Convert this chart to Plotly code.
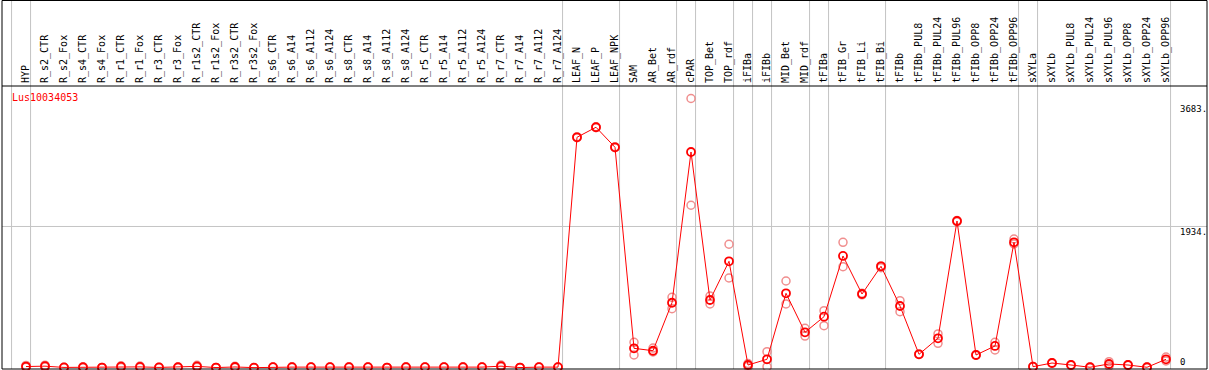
import plotly.graph_objects as go

# ---------------- data ----------------
categories = [
    "HYP", "R_s2_CTR", "R_s2_Fox", "R_s4_CTR", "R_s4_Fox", "R_r1_CTR", "R_r1_Fox",
    "R_r3_CTR", "R_r3_Fox", "R_r1s2_CTR", "R_r1s2_Fox", "R_r3s2_CTR", "R_r3s2_Fox",
    "R_s6_CTR", "R_s6_A14", "R_s6_A112", "R_s6_A124", "R_s8_CTR", "R_s8_A14",
    "R_s8_A112", "R_s8_A124", "R_r5_CTR", "R_r5_A14", "R_r5_A112", "R_r5_A124",
    "R_r7_CTR", "R_r7_A14", "R_r7_A112", "R_r7_A124", "LEAF_N", "LEAF_P", "LEAF_NPK",
    "SAM", "AR_Bet", "AR_rdf", "cPAR", "TOP_Bet", "TOP_rdf", "iFIBa", "iFIBb",
    "MID_Bet", "MID_rdf", "tFIBa", "tFIB_Gr", "tFIB_Li", "tFIB_Bi", "tFIBb",
    "tFIBb_PUL8", "tFIBb_PUL24", "tFIBb_PUL96", "tFIBb_OPP8", "tFIBb_OPP24",
    "tFIBb_OPP96", "sXYLa", "sXYLb", "sXYLb_PUL8", "sXYLb_PUL24", "sXYLb_PUL96",
    "sXYLb_OPP8", "sXYLb_OPP24", "sXYLb_OPP96",
]

mean_vals = [
    20, 25, 8, 10, 6, 18, 15, 8, 10, 22, 6, 14, 5,
    12, 12, 12, 12, 12, 12, 6, 12, 12, 12, 12, 12, 25, 6, 12, 12,
    3153, 3290, 3016, 269, 236, 892, 2952, 929, 1458, 41, 119,
    1021, 488, 701, 1531, 1011, 1390, 847, 187, 406, 2009, 178, 301, 1718,
    18, 68, 41, 10, 55, 41, 10, 119,
]

rep_hi = [
    35, 38, 10, 14, 8, 30, 26, 11, 13, 36, 8, 24, 7,
    15, 16, 15, 15, 16, 15, 8, 16, 15, 15, 16, 15, 40, 8, 15, 15,
    3160, 3296, 3022, 351, 273, 966, 3683, 984, 1691, 61, 223,
    1189, 543, 783, 1718, 1020, 1395, 920, 190, 465, 2015, 182, 351, 1763,
    22, 72, 45, 14, 86, 45, 14, 150,
]

rep_lo = [
    10, 15, 5, 6, 4, 8, 6, 5, 6, 10, 4, 6, 3,
    9, 8, 9, 9, 8, 9, 4, 8, 9, 9, 8, 9, 12, 4, 9, 9,
    3148, 3285, 3010, 178, 219, 810, 2224, 875, 1230, 20, 18,
    875, 437, 578, 1384, 1000, 1370, 769, 185, 338, 2000, 174, 246, 1695,
    14, 64, 37, 6, 27, 37, 6, 96,
]

y_tick_vals = [3683, 1934, 0]
y_tick_text = ["3683.", "1934.", "0"]
gene_name = "Lus10034053"

# group boundaries (separator drawn right after these category indices)
group_ends = [-1, 0, 28, 31, 34, 35, 37, 38, 39, 41, 42, 45, 52, 53, 60]

# ---------------- layout constants ----------------
W, H = 1209, 370
ML, MR, MT, MB = 2, 2, 86, 1
plot_w = W - ML - MR
plot_h = H - MT - MB
cat_px = 19.0          # pixels per category
first_px = 26.0        # pixel x of first category
x_min = -(first_px - ML) / cat_px
x_max = x_min + plot_w / cat_px

zero_px = 368.0        # pixel y of value 0
top_val_px = 98.5      # pixel y of max value
scale = (zero_px - top_val_px) / y_tick_vals[0]
y_min = -((H - MB) - zero_px) / scale
y_max = (zero_px - MT) / scale

x = list(range(len(categories)))
mono = "DejaVu Sans Mono"
grey = "#c4c4c4"

fig = go.Figure()

# replicate markers
fig.add_trace(go.Scatter(
    x=x + x, y=rep_hi + rep_lo, mode="markers",
    marker=dict(symbol="circle-open", size=8, color="rgba(238,130,130,0.9)",
                line=dict(width=1.5, color="rgba(238,130,130,0.9)")),
    cliponaxis=False, hoverinfo="skip", showlegend=False,
))

# mean line + markers
fig.add_trace(go.Scatter(
    x=x, y=mean_vals, mode="lines+markers",
    line=dict(color="#ff0000", width=1),
    marker=dict(symbol="circle-open", size=8, color="#ff0000",
                line=dict(width=1.8, color="#ff0000")),
    cliponaxis=False, showlegend=False,
))

shapes = []
top_paper = (H - MB - 0.5) / plot_h
# group separators
for g in group_ends:
    xs = g + 0.24
    shapes.append(dict(type="line", xref="x", yref="paper", x0=xs, x1=xs,
                       y0=0, y1=top_paper, line=dict(color=grey, width=1),
                       layer="below"))
# horizontal grid line at the middle tick
shapes.append(dict(type="line", xref="paper", yref="y", x0=0, x1=1,
                   y0=y_tick_vals[1], y1=y_tick_vals[1],
                   line=dict(color=grey, width=1), layer="below"))
# outer frame
shapes.append(dict(type="rect", xref="paper", yref="paper", x0=0, x1=1,
                   y0=0, y1=top_paper, line=dict(color="black", width=1),
                   layer="above"))
# header separator
shapes.append(dict(type="line", xref="paper", yref="paper", x0=0, x1=1,
                   y0=1, y1=1, line=dict(color="black", width=1), layer="above"))

annotations = [
    dict(text=gene_name, xref="paper", yref="paper",
         x=(9.5 - ML) / plot_w, y=((H - MB) - 97.5) / plot_h,
         xanchor="left", yanchor="middle", showarrow=False,
         font=dict(family=mono, size=10, color="#ff0000")),
]
yshifts = [-10, -6, 6]
for v, t, s in zip(y_tick_vals, y_tick_text, yshifts):
    annotations.append(dict(text=t, xref="paper", yref="y",
                            x=(1178 - ML) / plot_w, y=v, yshift=s,
                            xanchor="left", yanchor="middle", showarrow=False,
                            font=dict(family=mono, size=9, color="black")))

fig.update_layout(
    width=W, height=H,
    margin=dict(l=ML, r=MR, t=MT, b=MB, pad=0),
    paper_bgcolor="white", plot_bgcolor="white",
    xaxis=dict(range=[x_min, x_max], side="top", tickmode="array",
               tickvals=x, ticktext=categories, tickangle=-90,
               tickfont=dict(family=mono, size=10, color="black"),
               ticklabelstandoff=2,
               showgrid=False, zeroline=False, showline=False, ticks=""),
    yaxis=dict(range=[y_min, y_max], showgrid=False, zeroline=False,
               showline=False, showticklabels=False, ticks=""),
    shapes=shapes, annotations=annotations,
)

fig.write_html(
    "out.html",
    config={"displayModeBar": False},
    post_script="document.body.style.margin='0';document.body.style.overflow='hidden';",
)
